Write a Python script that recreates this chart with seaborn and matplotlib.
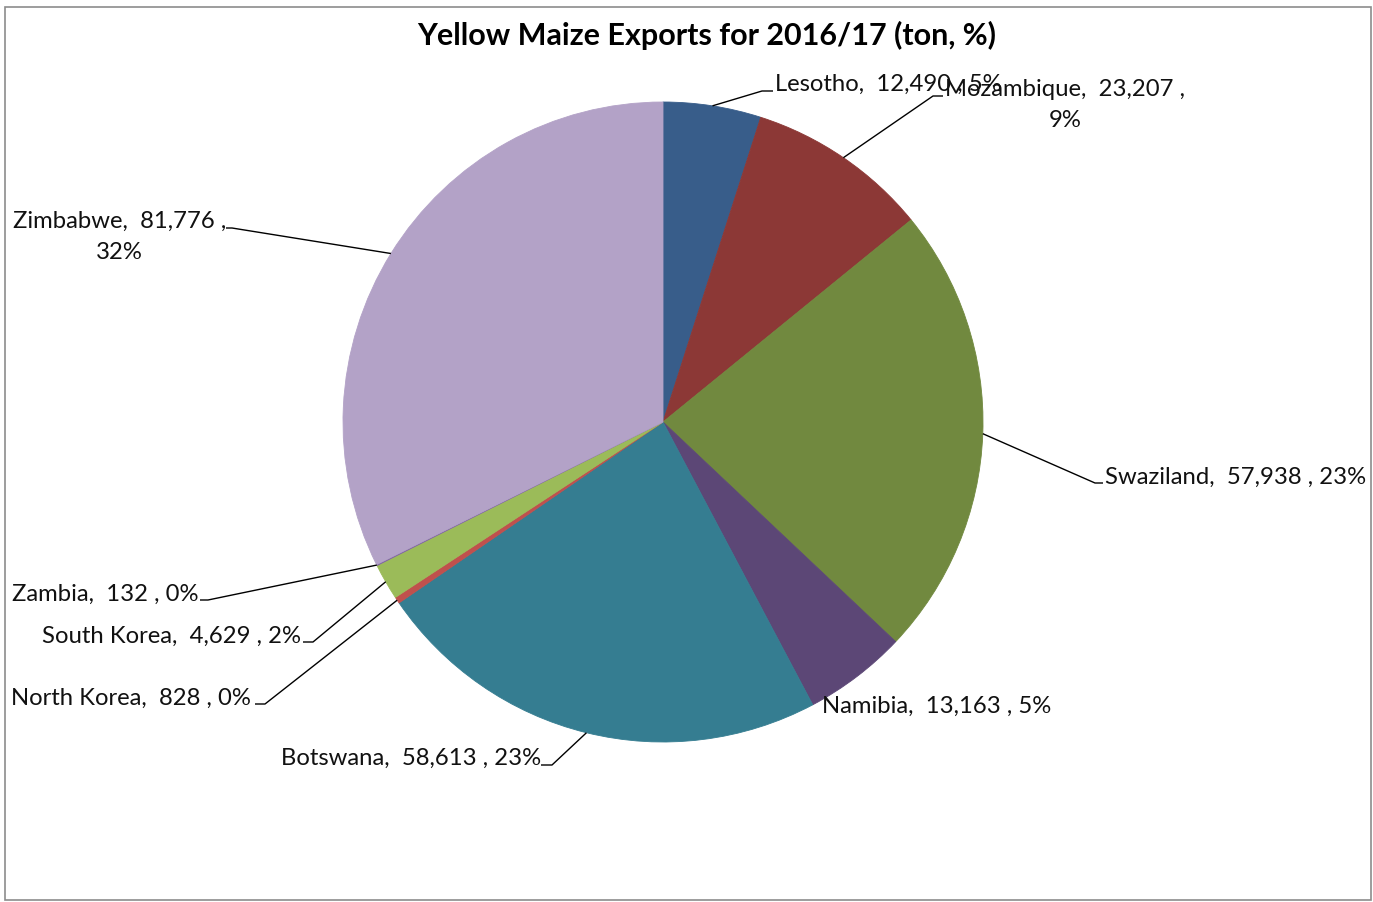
import numpy as np
import matplotlib
matplotlib.use("Agg")
import matplotlib.pyplot as plt
import seaborn as sns
from matplotlib.patches import Rectangle

# ---- data ----
countries = ["Lesotho", "Mozambique", "Swaziland", "Namibia", "Botswana",
             "North Korea", "South Korea", "Zambia", "Zimbabwe"]
tons = [12490, 23207, 57938, 13163, 58613, 828, 4629, 132, 81776]
hex_colors = ["#385D8A", "#8C3836", "#71893F", "#5C4776", "#357D91",
              "#C0504D", "#9BBB59", "#8064A2", "#B3A2C7"]
title = "Yellow Maize Exports for 2016/17 (ton, %)"

sns.set_theme(style="white")
plt.rcParams["font.family"] = ["Lato", "DejaVu Sans"]

W, H = 1373, 903
fig = plt.figure(figsize=(W / 100, H / 100), dpi=100)
ax = fig.add_axes([0, 0, 1, 1])

cx, cy, R = 663, H - 423, 320
palette = sns.color_palette(hex_colors)
wedges, _ = ax.pie(tons, colors=palette, startangle=90, counterclock=False,
                   center=(cx, cy), radius=R, wedgeprops=dict(linewidth=0.6))
for w in wedges:
    w.set_edgecolor(w.get_facecolor())
ax.set_xlim(0, W)
ax.set_ylim(0, H)
ax.set_aspect("equal")
ax.axis("off")

# chart border
fig.patches.append(Rectangle((5 / W, 1 - 901 / H), 1366 / W, 893 / H,
                             transform=fig.transFigure, fill=False,
                             edgecolor="#8c8c8c", linewidth=1.2))

ax.text(707, H - 35, title, ha="center", va="center", fontsize=22,
        fontweight="bold", color="black")

total = sum(tons)
fr = np.array(tons) / total
cum = np.cumsum(fr)
mids = cum - fr / 2

# label layout: (text x, text y, ha, elbow x, elbow y, end x, two_line)
layout = {
    "Lesotho":     (775, 84, "left", 762, 92, 773, False),
    "Mozambique":  (945, 105, "left", 933, 97, 943, True),
    "Swaziland":   (1105, 477, "left", 1095, 484, 1103, False),
    "Namibia":     (822, 706, "left", None, None, None, False),
    "Botswana":    (541, 758, "right", 552, 766, 541, False),
    "North Korea": (251, 698, "right", 265, 705, 255, False),
    "South Korea": (301, 636, "right", 313, 643, 303, False),
    "Zambia":      (199, 594, "right", 208, 601, 200, False),
    "Zimbabwe":    (226, 237, "right", 232, 229, 226, True),
}

fs = 17.2
for name, t, f, m in zip(countries, tons, fr, mids):
    tx, ty, ha, ex, ey, endx, two = layout[name]
    pct = int(round(f * 100))
    if two:
        label = f"{name},  {t:,} ,\n{pct}%"
    else:
        label = f"{name},  {t:,} , {pct}%"
    ax.text(tx, H - ty, label, ha=ha, va="center", fontsize=fs,
            color="#111111", multialignment="center", linespacing=1.62)
    if ex is not None:
        ang = 2 * np.pi * m
        px = cx + R * np.sin(ang)
        py = cy + R * np.cos(ang)
        ax.plot([px, ex, endx], [py, H - ey, H - ey], color="black",
                linewidth=1.0, solid_capstyle="butt")

fig.savefig("out.png", dpi=100, facecolor="white")
